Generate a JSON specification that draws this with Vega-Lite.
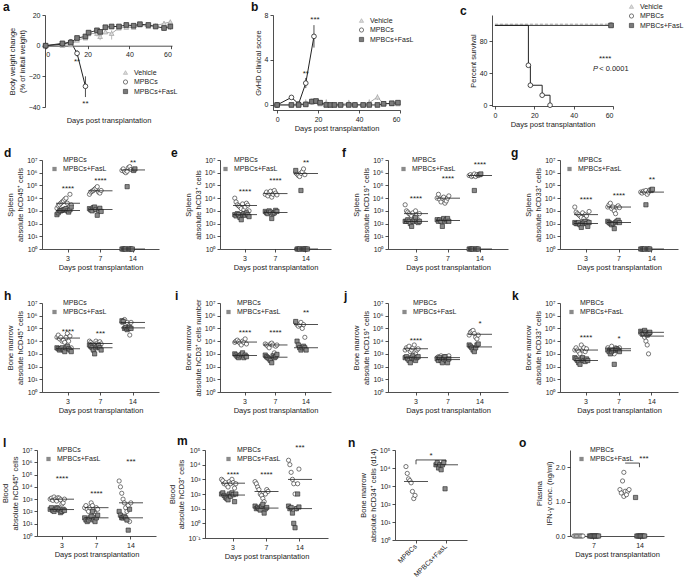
{
"$schema":"https://vega.github.io/schema/vega-lite/v6.json",
"padding":1,
"config":{
 "font":"Liberation Sans",
 "view":{"stroke":null},
 "axis":{"grid":false,"domainColor":"#222","tickColor":"#222","labelColor":"#222","titleColor":"#222","labelFontSize":7,"titleFontSize":7.5,"titleFontWeight":"normal","tickSize":3,"domainWidth":0.8,"tickWidth":0.8,"labelPadding":2,"titlePadding":2},
 "legend":{"labelFontSize":7,"symbolSize":18,"symbolStrokeWidth":0.6,"symbolStrokeColor":"#222","rowPadding":1.5,"labelOffset":5,"padding":0,"labelColor":"#222"},
 "title":{"fontSize":12,"fontWeight":"bold","anchor":"start","frame":"group","color":"#111","offset":0},
 "text":{"fontSize":8,"color":"#222","baseline":"middle","dy":2},
 "tick":{"thickness":0.8}
},
"datasets":{
"a":[
{"s":"Vehicle","x":0,"y":0},{"s":"Vehicle","x":8,"y":0.2},{"s":"Vehicle","x":12,"y":0.6,"lo":-0.6,"hi":1.8},{"s":"Vehicle","x":15,"y":3.6},{"s":"Vehicle","x":19,"y":5},{"s":"Vehicle","x":20.5,"y":7.8},{"s":"Vehicle","x":24.5,"y":8,"lo":6,"hi":10},{"s":"Vehicle","x":26,"y":6,"lo":3.6,"hi":8.5},{"s":"Vehicle","x":28.5,"y":9},{"s":"Vehicle","x":31.5,"y":8,"lo":4,"hi":10},{"s":"Vehicle","x":35,"y":11.5},{"s":"Vehicle","x":38.5,"y":12},{"s":"Vehicle","x":42,"y":12},{"s":"Vehicle","x":45,"y":13.5},{"s":"Vehicle","x":49,"y":12.5},{"s":"Vehicle","x":52.5,"y":13},{"s":"Vehicle","x":56.5,"y":14.5,"lo":13,"hi":16},{"s":"Vehicle","x":59.5,"y":15.5,"lo":14,"hi":17},
{"s":"MPBCs","x":0,"y":0},{"s":"MPBCs","x":8,"y":1},{"s":"MPBCs","x":12,"y":2.5},{"s":"MPBCs","x":15,"y":-5,"lo":-7,"hi":-3},{"s":"MPBCs","x":19,"y":-26.5,"lo":-33.5,"hi":-20},
{"s":"MPBCs+FasL","x":0,"y":0},{"s":"MPBCs+FasL","x":8,"y":1.5},{"s":"MPBCs+FasL","x":12,"y":2},{"s":"MPBCs+FasL","x":15,"y":5},{"s":"MPBCs+FasL","x":19,"y":6},{"s":"MPBCs+FasL","x":20.5,"y":8.5},{"s":"MPBCs+FasL","x":24.5,"y":10},{"s":"MPBCs+FasL","x":26,"y":9},{"s":"MPBCs+FasL","x":28.5,"y":12},{"s":"MPBCs+FasL","x":31.5,"y":12.5},{"s":"MPBCs+FasL","x":35,"y":12.5},{"s":"MPBCs+FasL","x":38.5,"y":13.5},{"s":"MPBCs+FasL","x":42,"y":13},{"s":"MPBCs+FasL","x":45,"y":14},{"s":"MPBCs+FasL","x":49,"y":13.5},{"s":"MPBCs+FasL","x":52.5,"y":12.5},{"s":"MPBCs+FasL","x":56.5,"y":11.5,"lo":10,"hi":13},{"s":"MPBCs+FasL","x":59.5,"y":12.5,"lo":10.5,"hi":14.5}
],
"as":[{"x":15,"y":-9.5,"t":"**"},{"x":19,"y":-36.5,"t":"**"}],
"b":[
{"s":"Vehicle","x":0,"y":0},{"s":"Vehicle","x":7,"y":0},{"s":"Vehicle","x":10.5,"y":0},{"s":"Vehicle","x":14,"y":0.2,"lo":0,"hi":0.5},{"s":"Vehicle","x":17,"y":0.3,"lo":0,"hi":0.6},{"s":"Vehicle","x":19,"y":0.3,"lo":0.1,"hi":0.5},{"s":"Vehicle","x":21,"y":0.1},{"s":"Vehicle","x":24,"y":0.2,"lo":0,"hi":0.5},{"s":"Vehicle","x":26,"y":0},{"s":"Vehicle","x":28,"y":0},{"s":"Vehicle","x":31,"y":0},{"s":"Vehicle","x":35,"y":0.2,"lo":0,"hi":0.45},{"s":"Vehicle","x":38,"y":0.05},{"s":"Vehicle","x":42,"y":0},{"s":"Vehicle","x":45,"y":0.2,"lo":0,"hi":0.5},{"s":"Vehicle","x":49,"y":0.7,"lo":0.45,"hi":0.95},{"s":"Vehicle","x":52,"y":0.1},{"s":"Vehicle","x":56,"y":0.1},{"s":"Vehicle","x":59,"y":0.1},
{"s":"MPBCs","x":0,"y":0},{"s":"MPBCs","x":7,"y":0.67},{"s":"MPBCs","x":10.5,"y":0.1},{"s":"MPBCs","x":14,"y":1.94,"lo":1.5,"hi":2.4},{"s":"MPBCs","x":18,"y":6.1,"lo":5.1,"hi":7.1},
{"s":"MPBCs+FasL","x":0,"y":0},{"s":"MPBCs+FasL","x":7,"y":0},{"s":"MPBCs+FasL","x":10.5,"y":0},{"s":"MPBCs+FasL","x":14,"y":0.05},{"s":"MPBCs+FasL","x":17,"y":0.3},{"s":"MPBCs+FasL","x":19,"y":0.35},{"s":"MPBCs+FasL","x":21,"y":0.2},{"s":"MPBCs+FasL","x":24,"y":0},{"s":"MPBCs+FasL","x":26,"y":0},{"s":"MPBCs+FasL","x":28,"y":0},{"s":"MPBCs+FasL","x":31,"y":0},{"s":"MPBCs+FasL","x":35,"y":0},{"s":"MPBCs+FasL","x":38,"y":0},{"s":"MPBCs+FasL","x":42,"y":0},{"s":"MPBCs+FasL","x":45,"y":0},{"s":"MPBCs+FasL","x":49,"y":0},{"s":"MPBCs+FasL","x":52,"y":0.1},{"s":"MPBCs+FasL","x":56,"y":0.15},{"s":"MPBCs+FasL","x":59,"y":0.2}
],
"bs":[{"x":14,"y":2.9,"t":"**"},{"x":18.5,"y":7.7,"t":"***"}],
"c":[
{"s":"Vehicle","x":0,"y":101.5},{"s":"Vehicle","x":59,"y":101.5},
{"s":"MPBCs+FasL","x":0,"y":100},{"s":"MPBCs+FasL","x":59,"y":100},
{"s":"MPBCs","x":0,"y":100},{"s":"MPBCs","x":17,"y":50},{"s":"MPBCs","x":18,"y":25},{"s":"MPBCs","x":24,"y":12.5},{"s":"MPBCs","x":28,"y":0}
],
"cp":[
{"s":"Vehicle","x":59,"y":101.5},{"s":"MPBCs","x":17,"y":50},{"s":"MPBCs","x":18,"y":25},{"s":"MPBCs","x":24,"y":12.5},{"s":"MPBCs","x":28,"y":0},{"s":"MPBCs+FasL","x":59,"y":100}
],
"d":[
{"d":3,"g":"M","v":1600},{"d":3,"g":"M","v":2500},{"d":3,"g":"M","v":3000},{"d":3,"g":"M","v":4000},{"d":3,"g":"M","v":5000},{"d":3,"g":"M","v":6000},{"d":3,"g":"M","v":8000},{"d":3,"g":"M","v":10000},{"d":3,"g":"M","v":4000},{"d":3,"g":"M","v":2000},{"d":3,"g":"M","v":20000},{"d":3,"g":"M","v":3000},
{"d":3,"g":"F","v":500},{"d":3,"g":"F","v":700},{"d":3,"g":"F","v":1000},{"d":3,"g":"F","v":1000},{"d":3,"g":"F","v":1100},{"d":3,"g":"F","v":1200},{"d":3,"g":"F","v":1300},{"d":3,"g":"F","v":1500},{"d":3,"g":"F","v":1000},{"d":3,"g":"F","v":800},{"d":3,"g":"F","v":1200},{"d":3,"g":"F","v":2000},
{"d":7,"g":"M","v":20000},{"d":7,"g":"M","v":30000},{"d":7,"g":"M","v":35000},{"d":7,"g":"M","v":40000},{"d":7,"g":"M","v":50000},{"d":7,"g":"M","v":60000},{"d":7,"g":"M","v":80000},{"d":7,"g":"M","v":30000},{"d":7,"g":"M","v":25000},{"d":7,"g":"M","v":40000},
{"d":7,"g":"F","v":1500},{"d":7,"g":"F","v":1200},{"d":7,"g":"F","v":1000},{"d":7,"g":"F","v":1800},{"d":7,"g":"F","v":2000},{"d":7,"g":"F","v":1300},{"d":7,"g":"F","v":450},{"d":7,"g":"F","v":1100},{"d":7,"g":"F","v":1600},{"d":7,"g":"F","v":900},
{"d":14,"g":"M","v":1500000},{"d":14,"g":"M","v":2000000},{"d":14,"g":"M","v":1200000},{"d":14,"g":"M","v":1000000},{"d":14,"g":"M","v":1300000},{"d":14,"g":"M","v":2500000},{"d":14,"g":"M","v":3000000},{"d":14,"g":"M","v":1800000},
{"d":14,"g":"F","v":1},{"d":14,"g":"F","v":1},{"d":14,"g":"F","v":1},{"d":14,"g":"F","v":1},{"d":14,"g":"F","v":80000},{"d":14,"g":"F","v":1},{"d":14,"g":"F","v":1},{"d":14,"g":"F","v":1},{"d":14,"g":"F","v":1},{"d":14,"g":"F","v":1500000},{"d":14,"g":"F","v":2000000}
],
"ds":[{"d":3,"t":"****","v":80000},{"d":7,"t":"****","v":300000},{"d":14,"t":"**","v":9000000}],
"e":[
{"d":3,"g":"M","v":10000},{"d":3,"g":"M","v":5000},{"d":3,"g":"M","v":3000},{"d":3,"g":"M","v":2500},{"d":3,"g":"M","v":2000},{"d":3,"g":"M","v":1500},{"d":3,"g":"M","v":3500},{"d":3,"g":"M","v":1200},{"d":3,"g":"M","v":2000},{"d":3,"g":"M","v":4000},{"d":3,"g":"M","v":2800},{"d":3,"g":"M","v":1000},
{"d":3,"g":"F","v":500},{"d":3,"g":"F","v":400},{"d":3,"g":"F","v":600},{"d":3,"g":"F","v":500},{"d":3,"g":"F","v":300},{"d":3,"g":"F","v":200},{"d":3,"g":"F","v":500},{"d":3,"g":"F","v":600},{"d":3,"g":"F","v":450},{"d":3,"g":"F","v":700},{"d":3,"g":"F","v":500},{"d":3,"g":"F","v":350},
{"d":7,"g":"M","v":20000},{"d":7,"g":"M","v":30000},{"d":7,"g":"M","v":15000},{"d":7,"g":"M","v":25000},{"d":7,"g":"M","v":35000},{"d":7,"g":"M","v":12000},{"d":7,"g":"M","v":20000},{"d":7,"g":"M","v":40000},{"d":7,"g":"M","v":25000},{"d":7,"g":"M","v":18000},
{"d":7,"g":"F","v":900},{"d":7,"g":"F","v":700},{"d":7,"g":"F","v":600},{"d":7,"g":"F","v":1000},{"d":7,"g":"F","v":800},{"d":7,"g":"F","v":250},{"d":7,"g":"F","v":600},{"d":7,"g":"F","v":700},{"d":7,"g":"F","v":1100},{"d":7,"g":"F","v":900},
{"d":14,"g":"M","v":1000000},{"d":14,"g":"M","v":800000},{"d":14,"g":"M","v":600000},{"d":14,"g":"M","v":500000},{"d":14,"g":"M","v":900000},{"d":14,"g":"M","v":1200000},{"d":14,"g":"M","v":2000000},{"d":14,"g":"M","v":700000},
{"d":14,"g":"F","v":1500000},{"d":14,"g":"F","v":1},{"d":14,"g":"F","v":1},{"d":14,"g":"F","v":1},{"d":14,"g":"F","v":40000},{"d":14,"g":"F","v":1},{"d":14,"g":"F","v":1},{"d":14,"g":"F","v":1},{"d":14,"g":"F","v":1},{"d":14,"g":"F","v":1}
],
"es":[{"d":3,"t":"****","v":43000},{"d":7,"t":"****","v":350000},{"d":14,"t":"**","v":9000000}],
"f":[
{"d":3,"g":"M","v":3000},{"d":3,"g":"M","v":1000},{"d":3,"g":"M","v":800},{"d":3,"g":"M","v":600},{"d":3,"g":"M","v":500},{"d":3,"g":"M","v":400},{"d":3,"g":"M","v":700},{"d":3,"g":"M","v":300},{"d":3,"g":"M","v":1000},{"d":3,"g":"M","v":500},{"d":3,"g":"M","v":200},{"d":3,"g":"M","v":600},
{"d":3,"g":"F","v":150},{"d":3,"g":"F","v":150},{"d":3,"g":"F","v":200},{"d":3,"g":"F","v":150},{"d":3,"g":"F","v":100},{"d":3,"g":"F","v":60},{"d":3,"g":"F","v":150},{"d":3,"g":"F","v":200},{"d":3,"g":"F","v":300},{"d":3,"g":"F","v":150},{"d":3,"g":"F","v":120},{"d":3,"g":"F","v":150},
{"d":7,"g":"M","v":10000},{"d":7,"g":"M","v":20000},{"d":7,"g":"M","v":8000},{"d":7,"g":"M","v":5000},{"d":7,"g":"M","v":10000},{"d":7,"g":"M","v":12000},{"d":7,"g":"M","v":4000},{"d":7,"g":"M","v":6000},{"d":7,"g":"M","v":10000},{"d":7,"g":"M","v":15000},
{"d":7,"g":"F","v":200},{"d":7,"g":"F","v":150},{"d":7,"g":"F","v":200},{"d":7,"g":"F","v":150},{"d":7,"g":"F","v":60},{"d":7,"g":"F","v":250},{"d":7,"g":"F","v":150},{"d":7,"g":"F","v":200},{"d":7,"g":"F","v":250},{"d":7,"g":"F","v":150},
{"d":14,"g":"M","v":600000},{"d":14,"g":"M","v":700000},{"d":14,"g":"M","v":500000},{"d":14,"g":"M","v":600000},{"d":14,"g":"M","v":800000},{"d":14,"g":"M","v":500000},{"d":14,"g":"M","v":700000},{"d":14,"g":"M","v":600000},
{"d":14,"g":"F","v":1},{"d":14,"g":"F","v":1},{"d":14,"g":"F","v":1},{"d":14,"g":"F","v":1},{"d":14,"g":"F","v":40000},{"d":14,"g":"F","v":1},{"d":14,"g":"F","v":1},{"d":14,"g":"F","v":1},{"d":14,"g":"F","v":700000},{"d":14,"g":"F","v":800000}
],
"fs":[{"d":3,"t":"****","v":13000},{"d":7,"t":"****","v":500000},{"d":14,"t":"****","v":5600000}],
"g":[
{"d":3,"g":"M","v":2000},{"d":3,"g":"M","v":800},{"d":3,"g":"M","v":600},{"d":3,"g":"M","v":500},{"d":3,"g":"M","v":400},{"d":3,"g":"M","v":300},{"d":3,"g":"M","v":700},{"d":3,"g":"M","v":250},{"d":3,"g":"M","v":500},{"d":3,"g":"M","v":400},{"d":3,"g":"M","v":150},{"d":3,"g":"M","v":900},
{"d":3,"g":"F","v":120},{"d":3,"g":"F","v":100},{"d":3,"g":"F","v":100},{"d":3,"g":"F","v":120},{"d":3,"g":"F","v":80},{"d":3,"g":"F","v":50},{"d":3,"g":"F","v":100},{"d":3,"g":"F","v":130},{"d":3,"g":"F","v":150},{"d":3,"g":"F","v":100},{"d":3,"g":"F","v":60},{"d":3,"g":"F","v":120},
{"d":7,"g":"M","v":2000},{"d":7,"g":"M","v":3000},{"d":7,"g":"M","v":4000},{"d":7,"g":"M","v":1500},{"d":7,"g":"M","v":2000},{"d":7,"g":"M","v":1000},{"d":7,"g":"M","v":600},{"d":7,"g":"M","v":2000},{"d":7,"g":"M","v":2500},{"d":7,"g":"M","v":1800},
{"d":7,"g":"F","v":150},{"d":7,"g":"F","v":120},{"d":7,"g":"F","v":100},{"d":7,"g":"F","v":80},{"d":7,"g":"F","v":100},{"d":7,"g":"F","v":40},{"d":7,"g":"F","v":120},{"d":7,"g":"F","v":150},{"d":7,"g":"F","v":180},{"d":7,"g":"F","v":120},
{"d":14,"g":"M","v":30000},{"d":14,"g":"M","v":25000},{"d":14,"g":"M","v":35000},{"d":14,"g":"M","v":30000},{"d":14,"g":"M","v":40000},{"d":14,"g":"M","v":20000},{"d":14,"g":"M","v":30000},{"d":14,"g":"M","v":45000},
{"d":14,"g":"F","v":1},{"d":14,"g":"F","v":1},{"d":14,"g":"F","v":1},{"d":14,"g":"F","v":1},{"d":14,"g":"F","v":3000},{"d":14,"g":"F","v":1},{"d":14,"g":"F","v":1},{"d":14,"g":"F","v":1},{"d":14,"g":"F","v":40000},{"d":14,"g":"F","v":50000}
],
"gs":[{"d":3,"t":"****","v":10000},{"d":7,"t":"****","v":20000},{"d":14,"t":"**","v":400000}],
"h":[
{"d":3,"g":"M","v":20000},{"d":3,"g":"M","v":30000},{"d":3,"g":"M","v":15000},{"d":3,"g":"M","v":20000},{"d":3,"g":"M","v":10000},{"d":3,"g":"M","v":12000},{"d":3,"g":"M","v":8000},{"d":3,"g":"M","v":20000},{"d":3,"g":"M","v":40000},{"d":3,"g":"M","v":10000},{"d":3,"g":"M","v":25000},{"d":3,"g":"M","v":3000},
{"d":3,"g":"F","v":3000},{"d":3,"g":"F","v":2500},{"d":3,"g":"F","v":2000},{"d":3,"g":"F","v":2500},{"d":3,"g":"F","v":3000},{"d":3,"g":"F","v":2000},{"d":3,"g":"F","v":1500},{"d":3,"g":"F","v":3000},{"d":3,"g":"F","v":4000},{"d":3,"g":"F","v":2500},{"d":3,"g":"F","v":2000},{"d":3,"g":"F","v":1500},
{"d":7,"g":"M","v":10000},{"d":7,"g":"M","v":8000},{"d":7,"g":"M","v":6000},{"d":7,"g":"M","v":5000},{"d":7,"g":"M","v":4000},{"d":7,"g":"M","v":10000},{"d":7,"g":"M","v":7000},{"d":7,"g":"M","v":5000},{"d":7,"g":"M","v":9000},{"d":7,"g":"M","v":6000},
{"d":7,"g":"F","v":5000},{"d":7,"g":"F","v":4000},{"d":7,"g":"F","v":3000},{"d":7,"g":"F","v":2000},{"d":7,"g":"F","v":1000},{"d":7,"g":"F","v":3000},{"d":7,"g":"F","v":4000},{"d":7,"g":"F","v":5000},{"d":7,"g":"F","v":3000},{"d":7,"g":"F","v":2000},
{"d":14,"g":"M","v":300000},{"d":14,"g":"M","v":400000},{"d":14,"g":"M","v":500000},{"d":14,"g":"M","v":200000},{"d":14,"g":"M","v":300000},{"d":14,"g":"M","v":150000},{"d":14,"g":"M","v":30000},{"d":14,"g":"M","v":300000},
{"d":14,"g":"F","v":400000},{"d":14,"g":"F","v":350000},{"d":14,"g":"F","v":100000},{"d":14,"g":"F","v":120000},{"d":14,"g":"F","v":80000},{"d":14,"g":"F","v":100000},{"d":14,"g":"F","v":120000},{"d":14,"g":"F","v":100000}
],
"hs":[{"d":3,"t":"****","v":80000},{"d":7,"t":"***","v":50000}],
"i":[
{"d":3,"g":"M","v":8000},{"d":3,"g":"M","v":10000},{"d":3,"g":"M","v":12000},{"d":3,"g":"M","v":9000},{"d":3,"g":"M","v":7000},{"d":3,"g":"M","v":5000},{"d":3,"g":"M","v":10000},{"d":3,"g":"M","v":8000},{"d":3,"g":"M","v":15000},{"d":3,"g":"M","v":6000},
{"d":3,"g":"F","v":1000},{"d":3,"g":"F","v":800},{"d":3,"g":"F","v":600},{"d":3,"g":"F","v":500},{"d":3,"g":"F","v":700},{"d":3,"g":"F","v":900},{"d":3,"g":"F","v":1200},{"d":3,"g":"F","v":500},{"d":3,"g":"F","v":800},{"d":3,"g":"F","v":600},
{"d":7,"g":"M","v":6000},{"d":7,"g":"M","v":5000},{"d":7,"g":"M","v":4000},{"d":7,"g":"M","v":3000},{"d":7,"g":"M","v":6000},{"d":7,"g":"M","v":7000},{"d":7,"g":"M","v":5000},{"d":7,"g":"M","v":1200},{"d":7,"g":"M","v":4000},{"d":7,"g":"M","v":5000},
{"d":7,"g":"F","v":800},{"d":7,"g":"F","v":600},{"d":7,"g":"F","v":500},{"d":7,"g":"F","v":400},{"d":7,"g":"F","v":300},{"d":7,"g":"F","v":200},{"d":7,"g":"F","v":700},{"d":7,"g":"F","v":500},{"d":7,"g":"F","v":600},{"d":7,"g":"F","v":900},
{"d":14,"g":"M","v":300000},{"d":14,"g":"M","v":200000},{"d":14,"g":"M","v":150000},{"d":14,"g":"M","v":200000},{"d":14,"g":"M","v":300000},{"d":14,"g":"M","v":100000},{"d":14,"g":"M","v":200000},{"d":14,"g":"M","v":20000},
{"d":14,"g":"F","v":350000},{"d":14,"g":"F","v":10000},{"d":14,"g":"F","v":5000},{"d":14,"g":"F","v":3000},{"d":14,"g":"F","v":2000},{"d":14,"g":"F","v":3000},{"d":14,"g":"F","v":4000},{"d":14,"g":"F","v":3000},{"d":14,"g":"F","v":2000}
],
"is":[{"d":3,"t":"****","v":63000},{"d":7,"t":"****","v":63000},{"d":14,"t":"**","v":2500000}],
"j":[
{"d":3,"g":"M","v":2000},{"d":3,"g":"M","v":3000},{"d":3,"g":"M","v":2500},{"d":3,"g":"M","v":4000},{"d":3,"g":"M","v":1500},{"d":3,"g":"M","v":2000},{"d":3,"g":"M","v":3000},{"d":3,"g":"M","v":5000},{"d":3,"g":"M","v":1000},{"d":3,"g":"M","v":2000},{"d":3,"g":"M","v":2500},
{"d":3,"g":"F","v":500},{"d":3,"g":"F","v":600},{"d":3,"g":"F","v":400},{"d":3,"g":"F","v":300},{"d":3,"g":"F","v":200},{"d":3,"g":"F","v":500},{"d":3,"g":"F","v":700},{"d":3,"g":"F","v":400},{"d":3,"g":"F","v":300},{"d":3,"g":"F","v":500},{"d":3,"g":"F","v":600},
{"d":7,"g":"M","v":500},{"d":7,"g":"M","v":600},{"d":7,"g":"M","v":400},{"d":7,"g":"M","v":700},{"d":7,"g":"M","v":500},{"d":7,"g":"M","v":300},{"d":7,"g":"M","v":600},{"d":7,"g":"M","v":400},{"d":7,"g":"M","v":500},{"d":7,"g":"M","v":700},
{"d":7,"g":"F","v":400},{"d":7,"g":"F","v":300},{"d":7,"g":"F","v":500},{"d":7,"g":"F","v":300},{"d":7,"g":"F","v":200},{"d":7,"g":"F","v":400},{"d":7,"g":"F","v":600},{"d":7,"g":"F","v":300},{"d":7,"g":"F","v":200},{"d":7,"g":"F","v":400},
{"d":14,"g":"M","v":30000},{"d":14,"g":"M","v":50000},{"d":14,"g":"M","v":60000},{"d":14,"g":"M","v":70000},{"d":14,"g":"M","v":40000},{"d":14,"g":"M","v":20000},{"d":14,"g":"M","v":15000},{"d":14,"g":"M","v":30000},
{"d":14,"g":"F","v":5000},{"d":14,"g":"F","v":4000},{"d":14,"g":"F","v":3000},{"d":14,"g":"F","v":2000},{"d":14,"g":"F","v":1500},{"d":14,"g":"F","v":3000},{"d":14,"g":"F","v":5000},{"d":14,"g":"F","v":6000}
],
"js":[{"d":3,"t":"****","v":16000},{"d":14,"t":"*","v":350000}],
"k":[
{"d":3,"g":"M","v":2000},{"d":3,"g":"M","v":3000},{"d":3,"g":"M","v":2000},{"d":3,"g":"M","v":1500},{"d":3,"g":"M","v":1000},{"d":3,"g":"M","v":5000},{"d":3,"g":"M","v":2000},{"d":3,"g":"M","v":3000},{"d":3,"g":"M","v":1500},{"d":3,"g":"M","v":2500},
{"d":3,"g":"F","v":500},{"d":3,"g":"F","v":400},{"d":3,"g":"F","v":300},{"d":3,"g":"F","v":200},{"d":3,"g":"F","v":150},{"d":3,"g":"F","v":400},{"d":3,"g":"F","v":500},{"d":3,"g":"F","v":300},{"d":3,"g":"F","v":250},{"d":3,"g":"F","v":400},{"d":3,"g":"F","v":300},
{"d":7,"g":"M","v":3000},{"d":7,"g":"M","v":2000},{"d":7,"g":"M","v":2500},{"d":7,"g":"M","v":4000},{"d":7,"g":"M","v":1500},{"d":7,"g":"M","v":1000},{"d":7,"g":"M","v":3000},{"d":7,"g":"M","v":2500},{"d":7,"g":"M","v":2000},{"d":7,"g":"M","v":3000},
{"d":7,"g":"F","v":2000},{"d":7,"g":"F","v":1500},{"d":7,"g":"F","v":1000},{"d":7,"g":"F","v":1500},{"d":7,"g":"F","v":2000},{"d":7,"g":"F","v":150},{"d":7,"g":"F","v":2000},{"d":7,"g":"F","v":2500},{"d":7,"g":"F","v":2000},{"d":7,"g":"F","v":1500},
{"d":14,"g":"M","v":40000},{"d":14,"g":"M","v":50000},{"d":14,"g":"M","v":30000},{"d":14,"g":"M","v":20000},{"d":14,"g":"M","v":10000},{"d":14,"g":"M","v":5000},{"d":14,"g":"M","v":1000},{"d":14,"g":"M","v":40000},
{"d":14,"g":"F","v":60000},{"d":14,"g":"F","v":50000},{"d":14,"g":"F","v":40000},{"d":14,"g":"F","v":70000},{"d":14,"g":"F","v":50000},{"d":14,"g":"F","v":30000},{"d":14,"g":"F","v":40000},{"d":14,"g":"F","v":50000}
],
"ks":[{"d":3,"t":"****","v":25000},{"d":7,"t":"*","v":20000}],
"l":[
{"d":3,"g":"M","v":1000},{"d":3,"g":"M","v":1200},{"d":3,"g":"M","v":800},{"d":3,"g":"M","v":1500},{"d":3,"g":"M","v":1000},{"d":3,"g":"M","v":700},{"d":3,"g":"M","v":1300},{"d":3,"g":"M","v":1200},{"d":3,"g":"M","v":900},{"d":3,"g":"M","v":400},{"d":3,"g":"M","v":500},{"d":3,"g":"M","v":1000},
{"d":3,"g":"F","v":150},{"d":3,"g":"F","v":200},{"d":3,"g":"F","v":120},{"d":3,"g":"F","v":100},{"d":3,"g":"F","v":150},{"d":3,"g":"F","v":200},{"d":3,"g":"F","v":180},{"d":3,"g":"F","v":130},{"d":3,"g":"F","v":80},{"d":3,"g":"F","v":100},{"d":3,"g":"F","v":150},{"d":3,"g":"F","v":120},
{"d":7,"g":"M","v":200},{"d":7,"g":"M","v":300},{"d":7,"g":"M","v":150},{"d":7,"g":"M","v":100},{"d":7,"g":"M","v":200},{"d":7,"g":"M","v":500},{"d":7,"g":"M","v":300},{"d":7,"g":"M","v":100},{"d":7,"g":"M","v":70},{"d":7,"g":"M","v":200},{"d":7,"g":"M","v":150},
{"d":7,"g":"F","v":30},{"d":7,"g":"F","v":20},{"d":7,"g":"F","v":15},{"d":7,"g":"F","v":20},{"d":7,"g":"F","v":30},{"d":7,"g":"F","v":40},{"d":7,"g":"F","v":100},{"d":7,"g":"F","v":20},{"d":7,"g":"F","v":15},{"d":7,"g":"F","v":30},{"d":7,"g":"F","v":50},
{"d":14,"g":"M","v":30000},{"d":14,"g":"M","v":10000},{"d":14,"g":"M","v":3000},{"d":14,"g":"M","v":1000},{"d":14,"g":"M","v":500},{"d":14,"g":"M","v":200},{"d":14,"g":"M","v":100},{"d":14,"g":"M","v":300},{"d":14,"g":"M","v":15},{"d":14,"g":"M","v":500},
{"d":14,"g":"F","v":100},{"d":14,"g":"F","v":50},{"d":14,"g":"F","v":30},{"d":14,"g":"F","v":30},{"d":14,"g":"F","v":40},{"d":14,"g":"F","v":30},{"d":14,"g":"F","v":20},{"d":14,"g":"F","v":3},{"d":14,"g":"F","v":150}
],
"ls":[{"d":3,"t":"****","v":60000},{"d":7,"t":"****","v":4000},{"d":14,"t":"***","v":1600000}],
"m":[
{"d":3,"g":"M","v":1000},{"d":3,"g":"M","v":800},{"d":3,"g":"M","v":500},{"d":3,"g":"M","v":600},{"d":3,"g":"M","v":400},{"d":3,"g":"M","v":300},{"d":3,"g":"M","v":700},{"d":3,"g":"M","v":500},{"d":3,"g":"M","v":1000},{"d":3,"g":"M","v":600},{"d":3,"g":"M","v":250},{"d":3,"g":"M","v":500},
{"d":3,"g":"F","v":100},{"d":3,"g":"F","v":120},{"d":3,"g":"F","v":80},{"d":3,"g":"F","v":60},{"d":3,"g":"F","v":50},{"d":3,"g":"F","v":40},{"d":3,"g":"F","v":100},{"d":3,"g":"F","v":70},{"d":3,"g":"F","v":120},{"d":3,"g":"F","v":90},{"d":3,"g":"F","v":30},{"d":3,"g":"F","v":100},
{"d":7,"g":"M","v":700},{"d":7,"g":"M","v":500},{"d":7,"g":"M","v":300},{"d":7,"g":"M","v":200},{"d":7,"g":"M","v":100},{"d":7,"g":"M","v":80},{"d":7,"g":"M","v":50},{"d":7,"g":"M","v":30},{"d":7,"g":"M","v":100},{"d":7,"g":"M","v":200},{"d":7,"g":"M","v":150},
{"d":7,"g":"F","v":15},{"d":7,"g":"F","v":10},{"d":7,"g":"F","v":12},{"d":7,"g":"F","v":10},{"d":7,"g":"F","v":8},{"d":7,"g":"F","v":15},{"d":7,"g":"F","v":20},{"d":7,"g":"F","v":5},{"d":7,"g":"F","v":10},{"d":7,"g":"F","v":12},
{"d":14,"g":"M","v":20000},{"d":14,"g":"M","v":10000},{"d":14,"g":"M","v":3000},{"d":14,"g":"M","v":1000},{"d":14,"g":"M","v":500},{"d":14,"g":"M","v":100},{"d":14,"g":"M","v":10},{"d":14,"g":"M","v":500},{"d":14,"g":"M","v":5000},
{"d":14,"g":"F","v":15},{"d":14,"g":"F","v":10},{"d":14,"g":"F","v":12},{"d":14,"g":"F","v":5},{"d":14,"g":"F","v":1},{"d":14,"g":"F","v":0.5},{"d":14,"g":"F","v":10},{"d":14,"g":"F","v":100},{"d":14,"g":"F","v":13}
],
"ms":[{"d":3,"t":"****","v":2500},{"d":7,"t":"****","v":2500},{"d":14,"t":"***","v":200000}],
"n":[
{"c":"MPBCs","g":"M","v":12000},{"c":"MPBCs","g":"M","v":5000},{"c":"MPBCs","g":"M","v":2500},{"c":"MPBCs","g":"M","v":2000},{"c":"MPBCs","g":"M","v":1500},{"c":"MPBCs","g":"M","v":500},{"c":"MPBCs","g":"M","v":200},{"c":"MPBCs","g":"M","v":300},
{"c":"MPBCs+FasL","g":"F","v":15000},{"c":"MPBCs+FasL","g":"F","v":20000},{"c":"MPBCs+FasL","g":"F","v":10000},{"c":"MPBCs+FasL","g":"F","v":15000},{"c":"MPBCs+FasL","g":"F","v":8000},{"c":"MPBCs+FasL","g":"F","v":15000},{"c":"MPBCs+FasL","g":"F","v":20000},{"c":"MPBCs+FasL","g":"F","v":700}
],
"nb":[{"c":"MPBCs","v":16000,"o":1},{"c":"MPBCs","v":28000,"o":2},{"c":"MPBCs+FasL","v":28000,"o":3},{"c":"MPBCs+FasL","v":22000,"o":4}],
"ns":[{"c":"MPBCs+FasL","v":58000,"t":"*"}],
"o":[
{"d":7,"g":"M","i":0,"v":0},{"d":7,"g":"M","i":1,"v":0},{"d":7,"g":"M","i":2,"v":0},{"d":7,"g":"M","i":3,"v":0},{"d":7,"g":"M","i":4,"v":0},{"d":7,"g":"M","i":5,"v":0},{"d":7,"g":"M","i":6,"v":0},{"d":7,"g":"M","i":7,"v":0},
{"d":7,"g":"F","i":12,"v":0},{"d":7,"g":"F","i":13,"v":0},{"d":7,"g":"F","i":14,"v":0},{"d":7,"g":"F","i":15,"v":0},{"d":7,"g":"F","i":16,"v":0},{"d":7,"g":"F","i":17,"v":0},{"d":7,"g":"F","i":18,"v":0},{"d":7,"g":"F","i":19,"v":0},
{"d":14,"g":"M","i":3,"v":1.85},{"d":14,"g":"M","i":2,"v":1.6},{"d":14,"g":"M","i":0,"v":1.35},{"d":14,"g":"M","i":4,"v":1.3},{"d":14,"g":"M","i":6,"v":1.3},{"d":14,"g":"M","i":1,"v":1.25},{"d":14,"g":"M","i":3,"v":1.15},{"d":14,"g":"M","i":5,"v":1.2},{"d":14,"g":"M","i":7,"v":1.35},
{"d":14,"g":"F","i":12,"v":1.12},{"d":14,"g":"F","i":13,"v":0},{"d":14,"g":"F","i":14,"v":0},{"d":14,"g":"F","i":15,"v":0},{"d":14,"g":"F","i":16,"v":0},{"d":14,"g":"F","i":17,"v":0},{"d":14,"g":"F","i":18,"v":0},{"d":14,"g":"F","i":19,"v":0}
],
"ob":[{"d":14,"i":4,"v":2.12,"o":1},{"d":14,"i":15,"v":2.12,"o":2},{"d":14,"i":15,"v":2.0,"o":3}],
"os":[{"d":14,"v":2.3,"t":"***"}]
},
"spacing":0,
"resolve":{"scale":{"shape":"independent","fill":"independent","stroke":"independent"},"legend":{"shape":"independent","fill":"independent","stroke":"independent"}},
"vconcat":[
{"hconcat":[
 {"width":236,"height":132,"title":{"text":"a","dx":-34,"dy":7},"data":{"name":"a"},
  "layer":[
   {"mark":{"type":"rule","strokeWidth":0.8},"encoding":{
     "x":{"field":"x","type":"quantitative","scale":{"domain":[-0.3,60.3],"range":[8,135],"nice":false},"axis":{"values":[0,20,40,60],"offset":-101.3,"title":"Days post transplantation","titleY":71}},
     "y":{"field":"lo","type":"quantitative","scale":{"domain":[-40,20],"range":[92,0],"nice":false},"axis":{"values":[-40,-30,-20,-10,0,10,20],"offset":-8,"title":["Body weight change","(% of initail weight)"]}},
     "y2":{"field":"hi"},
     "stroke":{"field":"s","type":"nominal","scale":{"domain":["Vehicle","MPBCs","MPBCs+FasL"],"range":["#a8a8a8","#222222","#333333"]},"legend":{"orient":"none","legendX":85,"legendY":54,"title":null}}}},
   {"mark":{"type":"line","strokeWidth":1},"encoding":{
     "x":{"field":"x","type":"quantitative"},"y":{"field":"y","type":"quantitative"},
     "stroke":{"field":"s","type":"nominal","legend":{"orient":"none","legendX":85,"legendY":54,"title":null}}}},
   {"mark":{"type":"point","filled":true,"size":22,"strokeWidth":0.8,"opacity":1},"encoding":{
     "x":{"field":"x","type":"quantitative"},"y":{"field":"y","type":"quantitative"},
     "stroke":{"field":"s","type":"nominal","legend":{"orient":"none","legendX":85,"legendY":54,"title":null}},
     "shape":{"field":"s","type":"nominal","scale":{"domain":["Vehicle","MPBCs","MPBCs+FasL"],"range":["triangle-up","circle","square"]},"legend":{"orient":"none","legendX":85,"legendY":54,"title":null}},
     "fill":{"field":"s","type":"nominal","scale":{"domain":["Vehicle","MPBCs","MPBCs+FasL"],"range":["#dcdcdc","#ffffff","#7a7a7a"]},"legend":{"orient":"none","legendX":85,"legendY":54,"title":null}}}},
   {"data":{"name":"as"},"mark":{"type":"text"},"encoding":{"x":{"field":"x","type":"quantitative"},"y":{"field":"y","type":"quantitative"},"text":{"field":"t"}}}
  ]},
 {"width":219,"height":132,"title":{"text":"b","dx":-22,"dy":7},"data":{"name":"b"},
  "layer":[
   {"mark":{"type":"rule","strokeWidth":0.8},"encoding":{
     "x":{"field":"x","type":"quantitative","scale":{"domain":[-2,60],"range":[0,127],"nice":false},"axis":{"values":[0,20,40,60],"title":"Days post transplantation","offset":-37}},
     "y":{"field":"lo","type":"quantitative","scale":{"domain":[-0.45,8],"range":[95,0],"nice":false},"axis":{"values":[0,2,4,6,8],"title":"GvHD clinical score"}},
     "y2":{"field":"hi"},
     "stroke":{"field":"s","type":"nominal","scale":{"domain":["Vehicle","MPBCs","MPBCs+FasL"],"range":["#a8a8a8","#222222","#333333"]},"legend":{"orient":"none","legendX":85,"legendY":2,"title":null}}}},
   {"mark":{"type":"line","strokeWidth":1},"encoding":{
     "x":{"field":"x","type":"quantitative"},"y":{"field":"y","type":"quantitative"},
     "stroke":{"field":"s","type":"nominal","legend":{"orient":"none","legendX":85,"legendY":2,"title":null}}}},
   {"mark":{"type":"point","filled":true,"size":22,"strokeWidth":0.8,"opacity":1},"encoding":{
     "x":{"field":"x","type":"quantitative"},"y":{"field":"y","type":"quantitative"},
     "stroke":{"field":"s","type":"nominal","legend":{"orient":"none","legendX":85,"legendY":2,"title":null}},
     "shape":{"field":"s","type":"nominal","scale":{"domain":["Vehicle","MPBCs","MPBCs+FasL"],"range":["triangle-up","circle","square"]},"legend":{"orient":"none","legendX":85,"legendY":2,"title":null}},
     "fill":{"field":"s","type":"nominal","scale":{"domain":["Vehicle","MPBCs","MPBCs+FasL"],"range":["#dcdcdc","#ffffff","#7a7a7a"]},"legend":{"orient":"none","legendX":85,"legendY":2,"title":null}}}},
   {"data":{"name":"bs"},"mark":{"type":"text"},"encoding":{"x":{"field":"x","type":"quantitative"},"y":{"field":"y","type":"quantitative"},"text":{"field":"t"}}}
  ]},
 {"width":121,"height":132,"title":{"text":"c","dx":-32,"dy":19},
  "layer":[
   {"data":{"name":"c"},"transform":[{"filter":"datum.s=='Vehicle'"}],"mark":{"type":"line","color":"#a8a8a8","strokeWidth":1,"strokeDash":[3,2]},"encoding":{
     "x":{"field":"x","type":"quantitative","scale":{"domain":[-1.5,60],"nice":false},"axis":{"values":[0,20,40,60],"title":"Days post transplantation","offset":-41}},
     "y":{"field":"y","type":"quantitative","scale":{"domain":[-1,113],"range":[91,0],"nice":false},"axis":{"values":[0,20,40,60,80,100],"title":"Percent survival"}}}},
   {"data":{"name":"c"},"transform":[{"filter":"datum.s=='MPBCs+FasL'"}],"mark":{"type":"line","color":"#333","strokeWidth":1},"encoding":{
     "x":{"field":"x","type":"quantitative"},"y":{"field":"y","type":"quantitative"}}},
   {"data":{"name":"c"},"transform":[{"filter":"datum.s=='MPBCs'"}],"mark":{"type":"line","color":"#222","strokeWidth":1,"interpolate":"step-after"},"encoding":{
     "x":{"field":"x","type":"quantitative"},"y":{"field":"y","type":"quantitative"}}},
   {"data":{"name":"cp"},"mark":{"type":"point","filled":true,"size":22,"strokeWidth":0.8,"opacity":1},"encoding":{
     "x":{"field":"x","type":"quantitative"},"y":{"field":"y","type":"quantitative"},
     "stroke":{"field":"s","type":"nominal","scale":{"domain":["Vehicle","MPBCs","MPBCs+FasL"],"range":["#a8a8a8","#222222","#333333"]},"legend":{"orient":"none","legendX":136,"legendY":-12,"title":null}},
     "shape":{"field":"s","type":"nominal","scale":{"domain":["Vehicle","MPBCs","MPBCs+FasL"],"range":["triangle-up","circle","square"]},"legend":{"orient":"none","legendX":136,"legendY":-12,"title":null}},
     "fill":{"field":"s","type":"nominal","scale":{"domain":["Vehicle","MPBCs","MPBCs+FasL"],"range":["#dcdcdc","#ffffff","#7a7a7a"]},"legend":{"orient":"none","legendX":136,"legendY":-12,"title":null}}}},
   {"data":{"values":[{"x":56,"y":60,"t":"****"}]},"mark":{"type":"text"},"encoding":{"x":{"field":"x","type":"quantitative"},"y":{"field":"y","type":"quantitative"},"text":{"field":"t"}}},
   {"data":{"values":[{"x":49.8,"y":48,"t":"P"}]},"mark":{"type":"text","align":"left","fontStyle":"italic","fontSize":7.5},"encoding":{"x":{"field":"x","type":"quantitative"},"y":{"field":"y","type":"quantitative"},"text":{"field":"t"}}},
   {"data":{"values":[{"x":53,"y":48,"t":"< 0.0001"}]},"mark":{"type":"text","align":"left","fontSize":7.5},"encoding":{"x":{"field":"x","type":"quantitative"},"y":{"field":"y","type":"quantitative"},"text":{"field":"t"}}}
  ]}
],"spacing":0,"bounds":"flush","resolve":{"scale":{"shape":"independent","fill":"independent","stroke":"independent"},"legend":{"shape":"independent","fill":"independent","stroke":"independent"}}},
{"hconcat":[
 {"width":183,"height":129,"title":{"text":"d","dx":-33,"dy":8},"layer":[
  {"data":{"name":"d"},"transform":[{"window":[{"op":"row_number","as":"i"}],"groupby":["d","g"]}],"mark":{"type":"point","filled":true,"size":18,"stroke":"#222","strokeWidth":0.6,"opacity":1},"encoding":{
    "x":{"field":"d","type":"ordinal","scale":{"range":[5,122],"paddingInner":0.2,"paddingOuter":0.4},"axis":{"title":"Days post transplantation","labelAngle":0,"offset":-40}},
    "xOffset":{"field":"i","type":"ordinal"},
    "y":{"field":"v","type":"quantitative","scale":{"type":"log","domain":[1,10000000],"range":[89,0]},"axis":{"values":[1,10,100,1000,10000,100000,1000000,10000000],"labelExpr":"['10⁰','10¹','10²','10³','10⁴','10⁵','10⁶','10⁷'][round(log(datum.value)/LN10)]","title":["Spleen","absolute hCD45⁺ cells"],"offset":-5}},
    "shape":{"field":"g","type":"nominal","scale":{"domain":["M","F"],"range":["circle","square"]},"legend":{"orient":"none","legendX":14,"legendY":-4,"title":null,"labelExpr":"datum.label=='M'?'MPBCs':'MPBCs+FasL'","encode":{"symbols":{"update":{"stroke":{"value":"#222"},"strokeWidth":{"value":0.6}}}}}},
    "fill":{"field":"g","type":"nominal","scale":{"domain":["M","F"],"range":["#ffffff","#8a8a8a"]},"legend":{"orient":"none","legendX":14,"legendY":-4,"title":null,"labelExpr":"datum.label=='M'?'MPBCs':'MPBCs+FasL'","encode":{"symbols":{"update":{"stroke":{"value":"#222"},"strokeWidth":{"value":0.6}}}}}}}},
  {"data":{"name":"d"},"mark":{"type":"tick","color":"#222","size":24},"encoding":{"x":{"field":"d","type":"ordinal"},"y":{"field":"v","aggregate":"median","type":"quantitative"},"detail":{"field":"g"}}},
  {"data":{"name":"ds"},"mark":{"type":"text"},"encoding":{"x":{"field":"d","type":"ordinal"},"y":{"field":"v","type":"quantitative"},"text":{"field":"t"}}}
 ]},
 {"width":168,"height":129,"title":{"text":"e","dx":-49,"dy":8},"layer":[
  {"data":{"name":"e"},"transform":[{"window":[{"op":"row_number","as":"i"}],"groupby":["d","g"]}],"mark":{"type":"point","filled":true,"size":18,"stroke":"#222","strokeWidth":0.6,"opacity":1},"encoding":{
    "x":{"field":"d","type":"ordinal","scale":{"range":[0,111],"paddingInner":0.2,"paddingOuter":0.42},"axis":{"title":"Days post transplantation","labelAngle":0,"offset":-40}},
    "xOffset":{"field":"i","type":"ordinal"},
    "y":{"field":"v","type":"quantitative","scale":{"type":"log","domain":[1,10000000],"range":[89,0]},"axis":{"values":[1,10,100,1000,10000,100000,1000000,10000000],"labelExpr":"['10⁰','10¹','10²','10³','10⁴','10⁵','10⁶','10⁷'][round(log(datum.value)/LN10)]","title":["Spleen","absolute hCD3⁺ cells"]}},
    "shape":{"field":"g","type":"nominal","scale":{"domain":["M","F"],"range":["circle","square"]},"legend":{"orient":"none","legendX":2,"legendY":-4,"title":null,"labelExpr":"datum.label=='M'?'MPBCs':'MPBCs+FasL'","encode":{"symbols":{"update":{"stroke":{"value":"#222"},"strokeWidth":{"value":0.6}}}}}},
    "fill":{"field":"g","type":"nominal","scale":{"domain":["M","F"],"range":["#ffffff","#8a8a8a"]},"legend":{"orient":"none","legendX":2,"legendY":-4,"title":null,"labelExpr":"datum.label=='M'?'MPBCs':'MPBCs+FasL'","encode":{"symbols":{"update":{"stroke":{"value":"#222"},"strokeWidth":{"value":0.6}}}}}}}},
  {"data":{"name":"e"},"mark":{"type":"tick","color":"#222","size":24},"encoding":{"x":{"field":"d","type":"ordinal"},"y":{"field":"v","aggregate":"median","type":"quantitative"},"detail":{"field":"g"}}},
  {"data":{"name":"es"},"mark":{"type":"text"},"encoding":{"x":{"field":"d","type":"ordinal"},"y":{"field":"v","type":"quantitative"},"text":{"field":"t"}}}
 ]},
 {"width":172,"height":129,"title":{"text":"f","dx":-46,"dy":8},"layer":[
  {"data":{"name":"f"},"transform":[{"window":[{"op":"row_number","as":"i"}],"groupby":["d","g"]}],"mark":{"type":"point","filled":true,"size":18,"stroke":"#222","strokeWidth":0.6,"opacity":1},"encoding":{
    "x":{"field":"d","type":"ordinal","scale":{"range":[0,120],"paddingInner":0.2,"paddingOuter":0.475},"axis":{"title":"Days post transplantation","labelAngle":0,"offset":-40}},
    "xOffset":{"field":"i","type":"ordinal"},
    "y":{"field":"v","type":"quantitative","scale":{"type":"log","domain":[1,10000000],"range":[89,0]},"axis":{"values":[1,10,100,1000,10000,100000,1000000,10000000],"labelExpr":"['10⁰','10¹','10²','10³','10⁴','10⁵','10⁶','10⁷'][round(log(datum.value)/LN10)]","title":["Spleen","absolute hCD19⁺ cells"]}},
    "shape":{"field":"g","type":"nominal","scale":{"domain":["M","F"],"range":["circle","square"]},"legend":{"orient":"none","legendX":12,"legendY":-4,"title":null,"labelExpr":"datum.label=='M'?'MPBCs':'MPBCs+FasL'","encode":{"symbols":{"update":{"stroke":{"value":"#222"},"strokeWidth":{"value":0.6}}}}}},
    "fill":{"field":"g","type":"nominal","scale":{"domain":["M","F"],"range":["#ffffff","#8a8a8a"]},"legend":{"orient":"none","legendX":12,"legendY":-4,"title":null,"labelExpr":"datum.label=='M'?'MPBCs':'MPBCs+FasL'","encode":{"symbols":{"update":{"stroke":{"value":"#222"},"strokeWidth":{"value":0.6}}}}}}}},
  {"data":{"name":"f"},"mark":{"type":"tick","color":"#222","size":24},"encoding":{"x":{"field":"d","type":"ordinal"},"y":{"field":"v","aggregate":"median","type":"quantitative"},"detail":{"field":"g"}}},
  {"data":{"name":"fs"},"mark":{"type":"text"},"encoding":{"x":{"field":"d","type":"ordinal"},"y":{"field":"v","type":"quantitative"},"text":{"field":"t"}}}
 ]},
 {"width":118,"height":129,"title":{"text":"g","dx":-49,"dy":8},"layer":[
  {"data":{"name":"g"},"transform":[{"window":[{"op":"row_number","as":"i"}],"groupby":["d","g"]}],"mark":{"type":"point","filled":true,"size":18,"stroke":"#222","strokeWidth":0.6,"opacity":1},"encoding":{
    "x":{"field":"d","type":"ordinal","scale":{"range":[0,118],"paddingInner":0.2,"paddingOuter":0.39},"axis":{"title":"Days post transplantation","labelAngle":0,"offset":-40}},
    "xOffset":{"field":"i","type":"ordinal"},
    "y":{"field":"v","type":"quantitative","scale":{"type":"log","domain":[1,10000000],"range":[89,0]},"axis":{"values":[1,10,100,1000,10000,100000,1000000,10000000],"labelExpr":"['10⁰','10¹','10²','10³','10⁴','10⁵','10⁶','10⁷'][round(log(datum.value)/LN10)]","title":["Spleen","absolute hCD33⁺ cells"]}},
    "shape":{"field":"g","type":"nominal","scale":{"domain":["M","F"],"range":["circle","square"]},"legend":{"orient":"none","legendX":6,"legendY":-4,"title":null,"labelExpr":"datum.label=='M'?'MPBCs':'MPBCs+FasL'","encode":{"symbols":{"update":{"stroke":{"value":"#222"},"strokeWidth":{"value":0.6}}}}}},
    "fill":{"field":"g","type":"nominal","scale":{"domain":["M","F"],"range":["#ffffff","#8a8a8a"]},"legend":{"orient":"none","legendX":6,"legendY":-4,"title":null,"labelExpr":"datum.label=='M'?'MPBCs':'MPBCs+FasL'","encode":{"symbols":{"update":{"stroke":{"value":"#222"},"strokeWidth":{"value":0.6}}}}}}}},
  {"data":{"name":"g"},"mark":{"type":"tick","color":"#222","size":24},"encoding":{"x":{"field":"d","type":"ordinal"},"y":{"field":"v","aggregate":"median","type":"quantitative"},"detail":{"field":"g"}}},
  {"data":{"name":"gs"},"mark":{"type":"text"},"encoding":{"x":{"field":"d","type":"ordinal"},"y":{"field":"v","type":"quantitative"},"text":{"field":"t"}}}
 ]}
],"spacing":0,"bounds":"flush","resolve":{"scale":{"shape":"independent","fill":"independent","stroke":"independent"},"legend":{"shape":"independent","fill":"independent","stroke":"independent"}}},
{"hconcat":[
 {"width":183,"height":131,"title":{"text":"h","dx":-33,"dy":8},"layer":[
  {"data":{"name":"h"},"transform":[{"window":[{"op":"row_number","as":"i"}],"groupby":["d","g"]}],"mark":{"type":"point","filled":true,"size":18,"stroke":"#222","strokeWidth":0.6,"opacity":1},"encoding":{
    "x":{"field":"d","type":"ordinal","scale":{"range":[5,122],"paddingInner":0.2,"paddingOuter":0.4},"axis":{"title":"Days post transplantation","labelAngle":0,"offset":-42}},
    "xOffset":{"field":"i","type":"ordinal"},
    "y":{"field":"v","type":"quantitative","scale":{"type":"log","domain":[1,10000000],"range":[89,0]},"axis":{"values":[1,10,100,1000,10000,100000,1000000,10000000],"labelExpr":"['10⁰','10¹','10²','10³','10⁴','10⁵','10⁶','10⁷'][round(log(datum.value)/LN10)]","title":["Bone marrow","absolute hCD45⁺ cells"],"offset":-5}},
    "shape":{"field":"g","type":"nominal","scale":{"domain":["M","F"],"range":["circle","square"]},"legend":{"orient":"none","legendX":14,"legendY":-4,"title":null,"labelExpr":"datum.label=='M'?'MPBCs':'MPBCs+FasL'","encode":{"symbols":{"update":{"stroke":{"value":"#222"},"strokeWidth":{"value":0.6}}}}}},
    "fill":{"field":"g","type":"nominal","scale":{"domain":["M","F"],"range":["#ffffff","#8a8a8a"]},"legend":{"orient":"none","legendX":14,"legendY":-4,"title":null,"labelExpr":"datum.label=='M'?'MPBCs':'MPBCs+FasL'","encode":{"symbols":{"update":{"stroke":{"value":"#222"},"strokeWidth":{"value":0.6}}}}}}}},
  {"data":{"name":"h"},"mark":{"type":"tick","color":"#222","size":24},"encoding":{"x":{"field":"d","type":"ordinal"},"y":{"field":"v","aggregate":"median","type":"quantitative"},"detail":{"field":"g"}}},
  {"data":{"name":"hs"},"mark":{"type":"text"},"encoding":{"x":{"field":"d","type":"ordinal"},"y":{"field":"v","type":"quantitative"},"text":{"field":"t"}}}
 ]},
 {"width":168,"height":131,"title":{"text":"i","dx":-45,"dy":8},"layer":[
  {"data":{"name":"i"},"transform":[{"window":[{"op":"row_number","as":"i"}],"groupby":["d","g"]}],"mark":{"type":"point","filled":true,"size":18,"stroke":"#222","strokeWidth":0.6,"opacity":1},"encoding":{
    "x":{"field":"d","type":"ordinal","scale":{"range":[0,111],"paddingInner":0.2,"paddingOuter":0.42},"axis":{"title":"Days post transplantation","labelAngle":0,"offset":-42}},
    "xOffset":{"field":"i","type":"ordinal"},
    "y":{"field":"v","type":"quantitative","scale":{"type":"log","domain":[1,10000000],"range":[89,0]},"axis":{"values":[1,10,100,1000,10000,100000,1000000,10000000],"labelExpr":"['10⁰','10¹','10²','10³','10⁴','10⁵','10⁶','10⁷'][round(log(datum.value)/LN10)]","title":["Bone marrow","absolute hCD3⁺ cells number"]}},
    "shape":{"field":"g","type":"nominal","scale":{"domain":["M","F"],"range":["circle","square"]},"legend":{"orient":"none","legendX":5,"legendY":-4,"title":null,"labelExpr":"datum.label=='M'?'MPBCs':'MPBCs+FasL'","encode":{"symbols":{"update":{"stroke":{"value":"#222"},"strokeWidth":{"value":0.6}}}}}},
    "fill":{"field":"g","type":"nominal","scale":{"domain":["M","F"],"range":["#ffffff","#8a8a8a"]},"legend":{"orient":"none","legendX":5,"legendY":-4,"title":null,"labelExpr":"datum.label=='M'?'MPBCs':'MPBCs+FasL'","encode":{"symbols":{"update":{"stroke":{"value":"#222"},"strokeWidth":{"value":0.6}}}}}}}},
  {"data":{"name":"i"},"mark":{"type":"tick","color":"#222","size":24},"encoding":{"x":{"field":"d","type":"ordinal"},"y":{"field":"v","aggregate":"median","type":"quantitative"},"detail":{"field":"g"}}},
  {"data":{"name":"is"},"mark":{"type":"text"},"encoding":{"x":{"field":"d","type":"ordinal"},"y":{"field":"v","type":"quantitative"},"text":{"field":"t"}}}
 ]},
 {"width":172,"height":131,"title":{"text":"j","dx":-44,"dy":8},"layer":[
  {"data":{"name":"j"},"transform":[{"window":[{"op":"row_number","as":"i"}],"groupby":["d","g"]}],"mark":{"type":"point","filled":true,"size":18,"stroke":"#222","strokeWidth":0.6,"opacity":1},"encoding":{
    "x":{"field":"d","type":"ordinal","scale":{"range":[0,120],"paddingInner":0.2,"paddingOuter":0.475},"axis":{"title":"Days post transplantation","labelAngle":0,"offset":-42}},
    "xOffset":{"field":"i","type":"ordinal"},
    "y":{"field":"v","type":"quantitative","scale":{"type":"log","domain":[1,10000000],"range":[89,0]},"axis":{"values":[1,10,100,1000,10000,100000,1000000,10000000],"labelExpr":"['10⁰','10¹','10²','10³','10⁴','10⁵','10⁶','10⁷'][round(log(datum.value)/LN10)]","title":["Bone marrow","absolute hCD19⁺ cells"]}},
    "shape":{"field":"g","type":"nominal","scale":{"domain":["M","F"],"range":["circle","square"]},"legend":{"orient":"none","legendX":13,"legendY":-4,"title":null,"labelExpr":"datum.label=='M'?'MPBCs':'MPBCs+FasL'","encode":{"symbols":{"update":{"stroke":{"value":"#222"},"strokeWidth":{"value":0.6}}}}}},
    "fill":{"field":"g","type":"nominal","scale":{"domain":["M","F"],"range":["#ffffff","#8a8a8a"]},"legend":{"orient":"none","legendX":13,"legendY":-4,"title":null,"labelExpr":"datum.label=='M'?'MPBCs':'MPBCs+FasL'","encode":{"symbols":{"update":{"stroke":{"value":"#222"},"strokeWidth":{"value":0.6}}}}}}}},
  {"data":{"name":"j"},"mark":{"type":"tick","color":"#222","size":24},"encoding":{"x":{"field":"d","type":"ordinal"},"y":{"field":"v","aggregate":"median","type":"quantitative"},"detail":{"field":"g"}}},
  {"data":{"name":"js"},"mark":{"type":"text"},"encoding":{"x":{"field":"d","type":"ordinal"},"y":{"field":"v","type":"quantitative"},"text":{"field":"t"}}}
 ]},
 {"width":118,"height":131,"title":{"text":"k","dx":-48,"dy":8},"layer":[
  {"data":{"name":"k"},"transform":[{"window":[{"op":"row_number","as":"i"}],"groupby":["d","g"]}],"mark":{"type":"point","filled":true,"size":18,"stroke":"#222","strokeWidth":0.6,"opacity":1},"encoding":{
    "x":{"field":"d","type":"ordinal","scale":{"range":[0,118],"paddingInner":0.2,"paddingOuter":0.39},"axis":{"title":"Days post transplantation","labelAngle":0,"offset":-42}},
    "xOffset":{"field":"i","type":"ordinal"},
    "y":{"field":"v","type":"quantitative","scale":{"type":"log","domain":[1,10000000],"range":[89,0]},"axis":{"values":[1,10,100,1000,10000,100000,1000000,10000000],"labelExpr":"['10⁰','10¹','10²','10³','10⁴','10⁵','10⁶','10⁷'][round(log(datum.value)/LN10)]","title":["Bone marrow","absolute hCD33⁺ cells"]}},
    "shape":{"field":"g","type":"nominal","scale":{"domain":["M","F"],"range":["circle","square"]},"legend":{"orient":"none","legendX":8,"legendY":-4,"title":null,"labelExpr":"datum.label=='M'?'MPBCs':'MPBCs+FasL'","encode":{"symbols":{"update":{"stroke":{"value":"#222"},"strokeWidth":{"value":0.6}}}}}},
    "fill":{"field":"g","type":"nominal","scale":{"domain":["M","F"],"range":["#ffffff","#8a8a8a"]},"legend":{"orient":"none","legendX":8,"legendY":-4,"title":null,"labelExpr":"datum.label=='M'?'MPBCs':'MPBCs+FasL'","encode":{"symbols":{"update":{"stroke":{"value":"#222"},"strokeWidth":{"value":0.6}}}}}}}},
  {"data":{"name":"k"},"mark":{"type":"tick","color":"#222","size":24},"encoding":{"x":{"field":"d","type":"ordinal"},"y":{"field":"v","aggregate":"median","type":"quantitative"},"detail":{"field":"g"}}},
  {"data":{"name":"ks"},"mark":{"type":"text"},"encoding":{"x":{"field":"d","type":"ordinal"},"y":{"field":"v","type":"quantitative"},"text":{"field":"t"}}}
 ]}
],"spacing":0,"bounds":"flush","resolve":{"scale":{"shape":"independent","fill":"independent","stroke":"independent"},"legend":{"shape":"independent","fill":"independent","stroke":"independent"}}},
{"hconcat":[
 {"width":168,"height":86,"title":{"text":"l","dx":-34,"dy":8},"layer":[
  {"data":{"name":"l"},"transform":[{"window":[{"op":"row_number","as":"i"}],"groupby":["d","g"]}],"mark":{"type":"point","filled":true,"size":18,"stroke":"#222","strokeWidth":0.6,"opacity":1},"encoding":{
    "x":{"field":"d","type":"ordinal","scale":{"range":[0,119],"paddingInner":0.2,"paddingOuter":0.325},"axis":{"title":"Days post transplantation","labelAngle":0}},
    "xOffset":{"field":"i","type":"ordinal"},
    "y":{"field":"v","type":"quantitative","scale":{"type":"log","domain":[1,10000000]},"axis":{"values":[1,10,100,1000,10000,100000,1000000,10000000],"labelExpr":"['10⁰','10¹','10²','10³','10⁴','10⁵','10⁶','10⁷'][round(log(datum.value)/LN10)]","title":["Blood","absolute hCD45⁺ cells"]}},
    "shape":{"field":"g","type":"nominal","scale":{"domain":["M","F"],"range":["circle","square"]},"legend":{"orient":"none","legendX":8,"legendY":-4,"title":null,"labelExpr":"datum.label=='M'?'MPBCs':'MPBCs+FasL'","encode":{"symbols":{"update":{"stroke":{"value":"#222"},"strokeWidth":{"value":0.6}}}}}},
    "fill":{"field":"g","type":"nominal","scale":{"domain":["M","F"],"range":["#ffffff","#8a8a8a"]},"legend":{"orient":"none","legendX":8,"legendY":-4,"title":null,"labelExpr":"datum.label=='M'?'MPBCs':'MPBCs+FasL'","encode":{"symbols":{"update":{"stroke":{"value":"#222"},"strokeWidth":{"value":0.6}}}}}}}},
  {"data":{"name":"l"},"mark":{"type":"tick","color":"#222","size":24},"encoding":{"x":{"field":"d","type":"ordinal"},"y":{"field":"v","aggregate":"median","type":"quantitative"},"detail":{"field":"g"}}},
  {"data":{"name":"ls"},"mark":{"type":"text"},"encoding":{"x":{"field":"d","type":"ordinal"},"y":{"field":"v","type":"quantitative"},"text":{"field":"t"}}}
 ]},
 {"width":190,"height":88,"title":{"text":"m","dx":-28,"dy":8},"layer":[
  {"data":{"name":"m"},"transform":[{"window":[{"op":"row_number","as":"i"}],"groupby":["d","g"]}],"mark":{"type":"point","filled":true,"size":18,"stroke":"#222","strokeWidth":0.6,"opacity":1},"encoding":{
    "x":{"field":"d","type":"ordinal","scale":{"range":[0,123],"paddingInner":0.2,"paddingOuter":0.436},"axis":{"title":"Days post transplantation","labelAngle":0}},
    "xOffset":{"field":"i","type":"ordinal"},
    "y":{"field":"v","type":"quantitative","scale":{"type":"log","domain":[0.1,100000]},"axis":{"values":[0.1,1,10,100,1000,10000,100000],"labelExpr":"['10⁻¹','10⁰','10¹','10²','10³','10⁴','10⁵'][round(log(datum.value)/LN10)+1]","title":["Blood","absolute hCD3⁺ cells"]}},
    "shape":{"field":"g","type":"nominal","scale":{"domain":["M","F"],"range":["circle","square"]},"legend":{"orient":"none","legendX":20,"legendY":-4,"title":null,"labelExpr":"datum.label=='M'?'MPBCs':'MPBCs+FasL'","encode":{"symbols":{"update":{"stroke":{"value":"#222"},"strokeWidth":{"value":0.6}}}}}},
    "fill":{"field":"g","type":"nominal","scale":{"domain":["M","F"],"range":["#ffffff","#8a8a8a"]},"legend":{"orient":"none","legendX":20,"legendY":-4,"title":null,"labelExpr":"datum.label=='M'?'MPBCs':'MPBCs+FasL'","encode":{"symbols":{"update":{"stroke":{"value":"#222"},"strokeWidth":{"value":0.6}}}}}}}},
  {"data":{"name":"m"},"mark":{"type":"tick","color":"#222","size":24},"encoding":{"x":{"field":"d","type":"ordinal"},"y":{"field":"v","aggregate":"median","type":"quantitative"},"detail":{"field":"g"}}},
  {"data":{"name":"ms"},"mark":{"type":"text"},"encoding":{"x":{"field":"d","type":"ordinal"},"y":{"field":"v","type":"quantitative"},"text":{"field":"t"}}}
 ]},
 {"width":175,"height":90,"title":{"text":"n","dx":-47,"dy":8},"layer":[
  {"data":{"name":"n"},"transform":[{"window":[{"op":"row_number","as":"i"}],"groupby":["c"]}],"mark":{"type":"point","filled":true,"size":18,"stroke":"#222","strokeWidth":0.6,"opacity":1},"encoding":{
    "x":{"field":"c","type":"nominal","scale":{"domain":["MPBCs","MPBCs+FasL"],"range":[0,72],"paddingInner":0.2,"paddingOuter":0.3},"axis":{"title":null,"labelAngle":-45,"labelAlign":"right","labelBaseline":"middle"}},
    "xOffset":{"field":"i","type":"ordinal"},
    "y":{"field":"v","type":"quantitative","scale":{"type":"log","domain":[1,100000]},"axis":{"values":[1,10,100,1000,10000,100000],"labelExpr":"['10⁰','10¹','10²','10³','10⁴','10⁵'][round(log(datum.value)/LN10)]","title":["Bone marrow","absolute hCD34⁺ cells (d14)"]}},
    "shape":{"field":"g","type":"nominal","scale":{"domain":["M","F"],"range":["circle","square"]},"legend":null},
    "fill":{"field":"g","type":"nominal","scale":{"domain":["M","F"],"range":["#ffffff","#8a8a8a"]},"legend":null}}},
  {"data":{"name":"n"},"mark":{"type":"tick","color":"#222","size":24},"encoding":{"x":{"field":"c","type":"nominal"},"y":{"field":"v","aggregate":"median","type":"quantitative"}}},
  {"data":{"name":"nb"},"mark":{"type":"line","color":"#222","strokeWidth":0.8},"encoding":{"x":{"field":"c","type":"nominal"},"y":{"field":"v","type":"quantitative"},"order":{"field":"o"}}},
  {"data":{"name":"ns"},"mark":{"type":"text","dx":-15},"encoding":{"x":{"field":"c","type":"nominal"},"y":{"field":"v","type":"quantitative"},"text":{"field":"t"}}}
 ]},
 {"width":103,"height":86,"title":{"text":"o","dx":-51,"dy":8},"layer":[
  {"data":{"name":"o"},"mark":{"type":"point","filled":true,"size":18,"stroke":"#222","strokeWidth":0.6,"opacity":1},"encoding":{
    "x":{"field":"d","type":"ordinal","scale":{"range":[0,94],"paddingInner":0.1,"paddingOuter":0.07},"axis":{"title":"Days post transplantation","labelAngle":0}},
    "xOffset":{"field":"i","type":"ordinal","scale":{"domain":[0,1,2,3,4,5,6,7,8,9,10,11,12,13,14,15,16,17,18,19]}},
    "y":{"field":"v","type":"quantitative","scale":{"domain":[0,2.5],"nice":false},"axis":{"values":[0,0.5,1,1.5,2,2.5],"format":".1f","title":["Plasma","IFN-γ conc. (ng/ml)"]}},
    "shape":{"field":"g","type":"nominal","scale":{"domain":["M","F"],"range":["circle","square"]},"legend":{"orient":"none","legendX":8,"legendY":-4,"title":null,"labelExpr":"datum.label=='M'?'MPBCs':'MPBCs+FasL'","encode":{"symbols":{"update":{"stroke":{"value":"#222"},"strokeWidth":{"value":0.6}}}}}},
    "fill":{"field":"g","type":"nominal","scale":{"domain":["M","F"],"range":["#ffffff","#8a8a8a"]},"legend":{"orient":"none","legendX":8,"legendY":-4,"title":null,"labelExpr":"datum.label=='M'?'MPBCs':'MPBCs+FasL'","encode":{"symbols":{"update":{"stroke":{"value":"#222"},"strokeWidth":{"value":0.6}}}}}}}},
  {"data":{"name":"ob"},"mark":{"type":"line","color":"#222","strokeWidth":0.8},"encoding":{"x":{"field":"d","type":"ordinal"},"xOffset":{"field":"i","type":"ordinal"},"y":{"field":"v","type":"quantitative"},"order":{"field":"o"}}},
  {"data":{"name":"os"},"mark":{"type":"text","dx":4},"encoding":{"x":{"field":"d","type":"ordinal"},"y":{"field":"v","type":"quantitative"},"text":{"field":"t"}}}
 ]}
],"spacing":0,"bounds":"flush","resolve":{"scale":{"shape":"independent","fill":"independent","stroke":"independent"},"legend":{"shape":"independent","fill":"independent","stroke":"independent"}}}
]
}
